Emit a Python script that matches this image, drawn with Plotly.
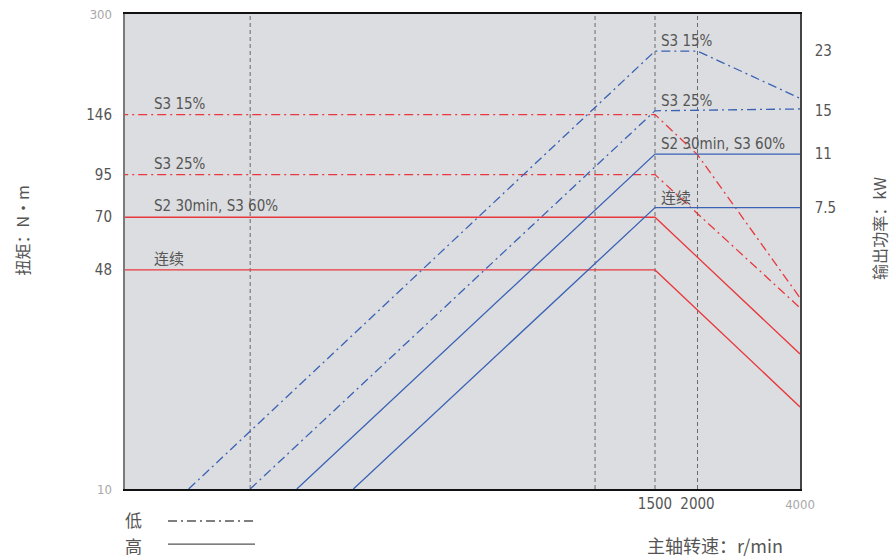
import math
import plotly.graph_objects as go

# ---- data -------------------------------------------------------------
speed_guides = [97, 1000, 1500, 2000]          # r/min, dashed reference lines

torque_ticks = [10, 48, 70, 95, 146, 300]      # N·m
power_ticks = [7.5, 11, 15, 23]                # kW
speed_ticks = [1500, 2000, 4000]               # r/min

# torque curves (left axis, red)
tq_s3_15_speed = [40, 1500, 2000, 4000]
tq_s3_15 = [146, 146, 109.5, 39.3]
tq_s3_25_speed = [40, 1500, 4000]
tq_s3_25 = [95, 95, 36.6]
tq_s2_speed = [40, 1500, 4000]
tq_s2 = [70, 70, 26.3]
tq_cont_speed = [40, 1500, 4000]
tq_cont = [48, 48, 18]

# power curves (right axis, blue)
pw_s3_15_speed = [64, 1500, 2000, 4000]
pw_s3_15 = [1, 23, 23, 16.4]
pw_s3_25_speed = [97, 1500, 4000]
pw_s3_25 = [1, 15, 15.2]
pw_s2_speed = [133, 1500, 4000]
pw_s2 = [1, 11, 11]
pw_cont_speed = [195, 1500, 4000]
pw_cont = [1, 7.5, 7.5]

duty_labels = ["S3 15%", "S3 25%", "S2 30min, S3 60%", "连续"]

# ---- styles -----------------------------------------------------------
RED = "#e8383d"
BLUE = "#3a62b5"
TXT = "#555555"
LIGHT = "#a8a8a8"
DASHDOT = "9px,4px,2px,4px"
FONT = "Liberation Sans Narrow, DejaVu Sans Condensed, Noto Sans CJK SC, sans-serif"
CJK = "Noto Sans CJK SC, sans-serif"

X_MIN, X_MAX = 41.6, 4000

fig = go.Figure()

for s in speed_guides:
    fig.add_trace(go.Scatter(x=[s, s], y=[10, 300], mode="lines",
                             line=dict(color="#6a6a6a", width=1, dash="4px,3px"),
                             hoverinfo="skip", showlegend=False))

red_sets = [
    (tq_s3_15_speed, tq_s3_15, DASHDOT),
    (tq_s3_25_speed, tq_s3_25, DASHDOT),
    (tq_s2_speed, tq_s2, "solid"),
    (tq_cont_speed, tq_cont, "solid"),
]
for xs, ys, d in red_sets:
    fig.add_trace(go.Scatter(x=xs, y=ys, mode="lines",
                             line=dict(color=RED, width=1.3, dash=d),
                             showlegend=False))

blue_sets = [
    (pw_s3_15_speed, pw_s3_15, DASHDOT),
    (pw_s3_25_speed, pw_s3_25, DASHDOT),
    (pw_s2_speed, pw_s2, "solid"),
    (pw_cont_speed, pw_cont, "solid"),
]
for xs, ys, d in blue_sets:
    fig.add_trace(go.Scatter(x=xs, y=ys, mode="lines", yaxis="y2",
                             line=dict(color=BLUE, width=1.3, dash=d),
                             showlegend=False))


def tick_text(v, faint):
    s = f"{v:g}"
    if faint:
        return f"<span style='color:{LIGHT};font-size:13px'>{s}</span>"
    return s


annotations = []
# duty-cycle labels at the torque lines (left) and power lines (right)
for lab, tq in zip(duty_labels, [tq_s3_15[0], tq_s3_25[0], tq_s2[0], tq_cont[0]]):
    annotations.append(dict(x=math.log10(50), y=math.log10(tq), xref="x", yref="y",
                            text=lab, showarrow=False, xanchor="left", yanchor="bottom",
                            yshift=0, font=dict(family=FONT, size=15, color=TXT)))
for lab, pw in zip(duty_labels, [pw_s3_15[1], pw_s3_25[1], pw_s2[1], pw_cont[1]]):
    annotations.append(dict(x=math.log10(1500), y=math.log10(pw), xref="x", yref="y2",
                            text=lab, showarrow=False, xanchor="left", yanchor="bottom",
                            xshift=4, yshift=-1, font=dict(family=FONT, size=15, color=TXT)))


def paper_text(x, y, text, size=16, angle=0):
    return dict(x=x, y=y, xref="paper", yref="paper", text=text, textangle=angle,
                xanchor="center", yanchor="middle", showarrow=False,
                font=dict(family=CJK, size=size, color=TXT))


# axis titles and gear key
annotations += [
    paper_text(-0.152, 0.545, "扭矩：N·m", angle=-90),
    paper_text(1.118, 0.549, "输出功率：kW", angle=-90),
    paper_text(0.874, -0.118, "主轴转速：r/min", size=18),
    paper_text(0.012, -0.065, "低", size=17),
    paper_text(0.012, -0.118, "高", size=17),
]

shapes = [
    dict(type="line", xref="paper", yref="paper", x0=0.0637, x1=0.1926,
         y0=-0.0674, y1=-0.0674, line=dict(color="#555", width=1.3, dash=DASHDOT)),
    dict(type="line", xref="paper", yref="paper", x0=0.0637, x1=0.1926,
         y0=-0.116, y1=-0.116, line=dict(color="#555", width=1.3)),
]

fig.update_layout(
    width=895, height=559,
    margin=dict(l=125, r=95, t=14, b=70, autoexpand=False),
    paper_bgcolor="white",
    plot_bgcolor="#dcdde0",
    font=dict(family=FONT, size=15, color=TXT),
    showlegend=False,
    annotations=annotations,
    shapes=shapes,
    xaxis=dict(type="log", range=[math.log10(X_MIN), math.log10(X_MAX)],
               automargin=False,
               tickvals=speed_ticks,
               ticktext=[tick_text(v, v == 4000) for v in speed_ticks],
               ticks="", showgrid=False, zeroline=False,
               showline=True, linecolor="#111", linewidth=1.5, mirror=True,
               ticklabelstandoff=0, tickfont=dict(family=FONT, size=15, color=TXT)),
    yaxis=dict(type="log", range=[1, math.log10(300)],
               automargin=False,
               tickvals=torque_ticks,
               ticktext=[tick_text(v, v in (10, 300)) for v in torque_ticks],
               ticks="", showgrid=False, zeroline=False,
               showline=True, linecolor="#7a7a7a", linewidth=2,
               ticklabelstandoff=8, tickfont=dict(family=FONT, size=15, color=TXT)),
    yaxis2=dict(type="log", range=[0, math.log10(30)], overlaying="y", side="right",
                automargin=False,
                tickvals=power_ticks, ticktext=[f"{v:g}" for v in power_ticks],
                ticks="", showgrid=False, zeroline=False,
                showline=True, linecolor="#444", linewidth=1.5,
                ticklabelstandoff=10, tickfont=dict(family=FONT, size=15, color=TXT)),
)

fig.write_html("out.html")
